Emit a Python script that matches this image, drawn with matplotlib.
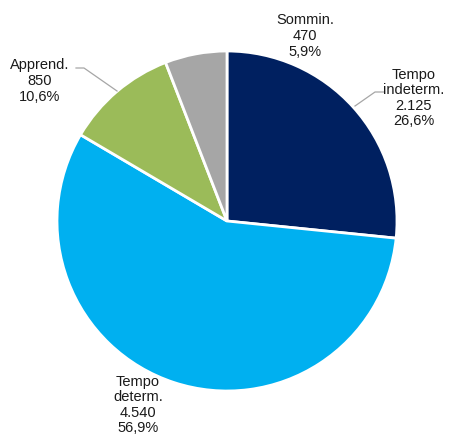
import matplotlib.pyplot as plt

# dati
categorie = ["Tempo\nindeterm.", "Tempo\ndeterm.", "Apprend.", "Sommin."]
valori = [2125, 4540, 850, 470]
etichette_val = ["2.125", "4.540", "850", "470"]
colori = ["#002060", "#00B0F0", "#9BBB59", "#A6A6A6"]

plt.rcParams['font.family'] = ['Liberation Sans', 'DejaVu Sans']

fig = plt.figure(figsize=(4.49, 4.39), dpi=100)
ax = fig.add_axes([0, 0, 1, 1])

H = 439
cx, cy, r = 227, H - 222, 170
ax.pie(valori, colors=colori, startangle=90, counterclock=False,
       center=(cx, cy), radius=r, frame=True,
       wedgeprops=dict(edgecolor="white", linewidth=2))
ax.set_xlim(0, 449)
ax.set_ylim(0, 439)
ax.axis("off")

tot = sum(valori)
perc = [("%.1f%%" % (v / tot * 100)).replace(".", ",") for v in valori]

# posizioni etichette (pixel, y dall'alto)
pos = [(414, 98), (138, 405), (40, 81), (305, 36)]
for cat, lv, p, (x, y) in zip(categorie, etichette_val, perc, pos):
    ax.text(x, H - y, cat + "\n" + lv + "\n" + p, ha="center", va="center",
            fontsize=10.5, color="#1a1a1a", linespacing=1.15)

# linee guida
ax.plot([76, 84, 117], [H - 69, H - 69, H - 92], color="#a6a6a6", lw=0.9)
ax.plot([384, 375, 355], [H - 93, H - 93, H - 107], color="#a6a6a6", lw=0.9)

fig.savefig("out.png", dpi=100)
